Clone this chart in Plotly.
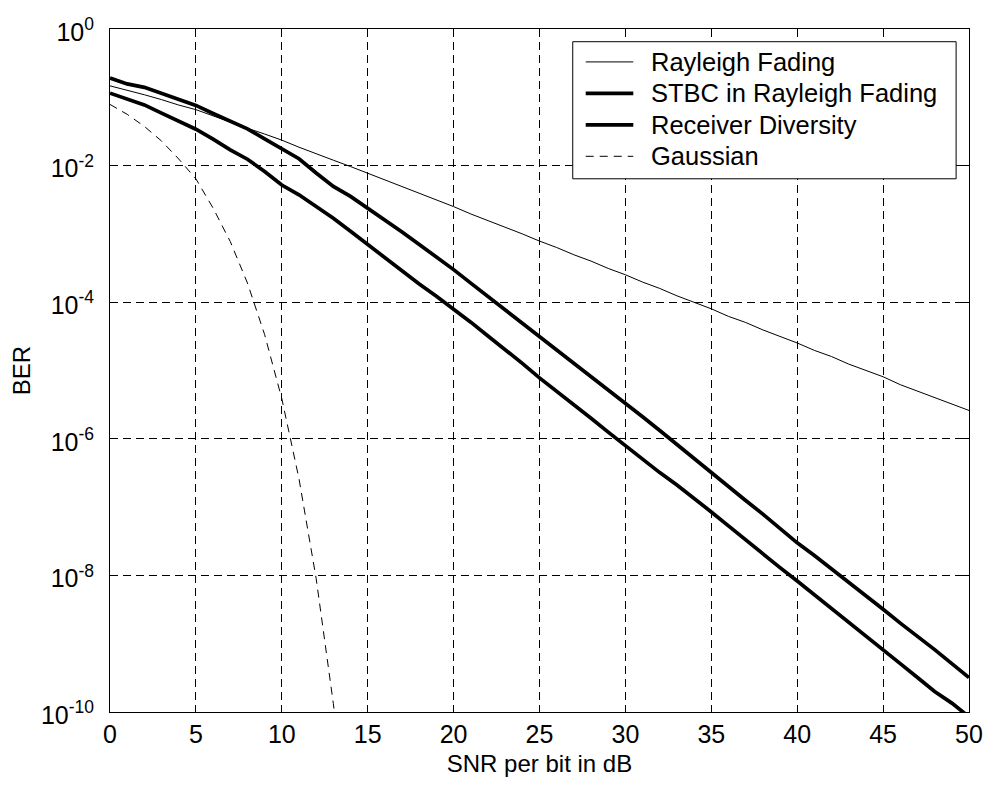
import plotly.graph_objects as go

snr_db = list(range(0, 51))

rayleigh_ber = [
    0.147, 0.128, 0.109, 0.0925, 0.077, 0.066, 0.0532, 0.0437, 0.0352, 0.0290,
    0.0236, 0.0186, 0.0151, 0.0120, 0.00968, 0.00775, 0.00612, 0.00493, 0.00388, 0.00313,
    0.00251, 0.00196, 0.00158, 0.00124, 0.00100, 0.000785, 0.000632, 0.000495, 0.000400, 0.000312,
    0.000252, 0.000197, 0.000159, 0.000124, 0.000100, 8.0e-5, 6.2e-5, 5.05e-5, 3.93e-5, 3.18e-5,
    2.53e-5, 1.97e-5, 1.60e-5, 1.24e-5, 1.00e-5, 8.1e-6, 6.2e-6, 5.0e-6, 3.95e-6, 3.2e-6,
    2.6e-6,
]

stbc_ber = [
    0.192, 0.157, 0.140, 0.115, 0.094, 0.076, 0.058, 0.045, 0.0345, 0.0247,
    0.0174, 0.0126, 0.0078, 0.00495, 0.00354, 0.0024, 0.00162, 0.00107, 0.00070, 0.00046,
    0.000300, 0.000190, 0.000121, 7.8e-5, 5.0e-5, 3.2e-5, 2.05e-5, 1.3e-5, 8.3e-6, 5.3e-6,
    3.4e-6, 2.1e-6, 1.32e-6, 8.2e-7, 5.1e-7, 3.2e-7, 2.0e-7, 1.25e-7, 7.9e-8, 4.8e-8,
    3.0e-8, 1.95e-8, 1.25e-8, 8.0e-9, 5.1e-9, 3.2e-9, 2.0e-9, 1.3e-9, 8.2e-10, 5.1e-10,
    3.2e-10,
]

rx_div_ber = [
    0.115, 0.0948, 0.0774, 0.0585, 0.0441, 0.0341, 0.0244, 0.0170, 0.0124, 0.0082,
    0.0052, 0.00374, 0.00252, 0.0017, 0.00109, 0.000695, 0.000445, 0.000283, 0.000185, 0.000122,
    8.0e-5, 5.1e-5, 3.2e-5, 2.05e-5, 1.27e-5, 7.8e-6, 5.0e-6, 3.1e-6, 2.0e-6, 1.25e-6,
    7.9e-7, 5.0e-7, 3.2e-7, 2.1e-7, 1.35e-7, 8.5e-8, 5.3e-8, 3.3e-8, 2.1e-8, 1.3e-8,
    8.3e-9, 5.2e-9, 3.2e-9, 2.0e-9, 1.25e-9, 7.9e-10, 5.1e-10, 3.2e-10, 2.0e-10, 1.35e-10,
    8.5e-11,
]

gauss_snr_db = list(range(0, 15))
gauss_ber = [0.0786, 0.0563, 0.0375, 0.0229, 0.0125, 0.0064, 0.00239, 7.73e-4,
             1.91e-4, 3.36e-5, 3.87e-6, 2.61e-7, 9.0e-9, 1.33e-10, 1.0e-12]

series_names = ["Rayleigh Fading", "STBC in Rayleigh Fading", "Receiver Diversity", "Gaussian"]

x_ticks = [0, 5, 10, 15, 20, 25, 30, 35, 40, 45, 50]
y_tickvals = [1, 1e-2, 1e-4, 1e-6, 1e-8, 1e-10]
y_ticktext = ["10<sup>0</sup>", "10<sup>-2</sup>", "10<sup>-4</sup>",
              "10<sup>-6</sup>", "10<sup>-8</sup>", "10<sup>-10</sup>"]

FONT = "Arial, 'Liberation Sans', sans-serif"

styles = [
    dict(color="black", width=1),
    dict(color="black", width=3.7),
    dict(color="black", width=3.7),
    dict(color="black", width=1, dash="8px,6px"),
]
xs = [snr_db, snr_db, snr_db, gauss_snr_db]
ys = [rayleigh_ber, stbc_ber, rx_div_ber, gauss_ber]

fig = go.Figure()
for name, x, y, st in zip(series_names, xs, ys, styles):
    fig.add_trace(go.Scatter(x=x, y=y, mode="lines", name=name, line=st, showlegend=False))

# Legend box drawn in paper coordinates (MATLAB-style legend)
shapes = [dict(type="rect", xref="paper", yref="paper", x0=0.5387, x1=0.985,
               y0=0.7807, y1=0.9814, line=dict(color="black", width=1),
               fillcolor="white", layer="above")]
annotations = []
row_y = [0.9518, 0.9057, 0.8596, 0.8136]
for name, st, ry in zip(series_names, styles, row_y):
    shapes.append(dict(type="line", xref="paper", yref="paper", x0=0.5538, x1=0.6092,
                       y0=ry, y1=ry, line=st, layer="above"))
    annotations.append(dict(xref="paper", yref="paper", x=0.6277, y=ry, text=name,
                            showarrow=False, xanchor="left", yanchor="middle",
                            font=dict(family=FONT, size=25.5, color="black")))

fig.update_layout(
    width=995, height=785,
    margin=dict(l=110, r=20, t=29, b=72),
    paper_bgcolor="white", plot_bgcolor="white",
    font=dict(family=FONT, size=24, color="black"),
    showlegend=False,
    shapes=shapes,
    annotations=annotations,
)

fig.update_xaxes(
    range=[0, 50], tickvals=x_ticks, ticktext=[str(v) for v in x_ticks],
    showline=True, linecolor="black", linewidth=1, mirror="ticks",
    ticks="inside", ticklen=7, tickcolor="black",
    showgrid=True, gridcolor="black", gridwidth=1, griddash="8px,5px",
    zeroline=False,
    title=dict(text="SNR per bit in dB", font=dict(family=FONT, size=24), standoff=8),
    tickfont=dict(family=FONT, size=25),
)
fig.update_yaxes(
    type="log", range=[-10, 0], tickvals=y_tickvals, ticktext=y_ticktext,
    showline=True, linecolor="black", linewidth=1, mirror="ticks",
    ticks="inside", ticklen=7, tickcolor="black",
    showgrid=True, gridcolor="black", gridwidth=1, griddash="8px,5px",
    zeroline=False,
    title=dict(text="BER", font=dict(family=FONT, size=24), standoff=3),
    tickfont=dict(family=FONT, size=25),
    ticklabelstandoff=10, ticklabelshift=3,
)

fig.write_html("out.html")
